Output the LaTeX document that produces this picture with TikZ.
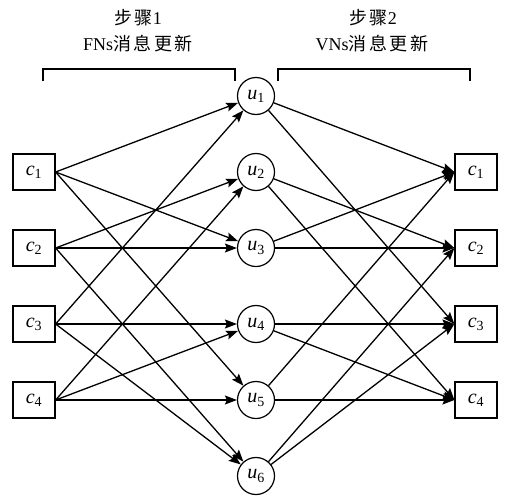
\documentclass[tikz,border=0pt]{standalone}
\usepackage{fontspec}
\setmainfont{Liberation Serif}
\newfontfamily\cjk{Noto Sans CJK SC}[LetterSpace=14]
\usetikzlibrary{arrows.meta}
\begin{document}
\begin{tikzpicture}[x=1pt,y=-1pt,
  cnode/.style={draw,line width=1.2pt,minimum width=42pt,minimum height=36pt,inner sep=0pt,font=\fontsize{20}{22}\selectfont},
  unode/.style={draw,circle,line width=1.2pt,minimum size=37pt,inner sep=0pt,font=\fontsize{20}{22}\selectfont},
  edge/.style={line width=1.3pt,-{Stealth[length=12pt,width=9pt,inset=2pt]}},
  brk/.style={line width=1.3pt},
  lbl/.style={font=\fontsize{18}{20}\selectfont,align=center}]
\useasboundingbox (0,0) rectangle (508,498);
% labels
\node[lbl] (s1) at (138,18) {{\cjk 步骤}1};
\node[lbl] (f1) at (138,44) {FNs{\cjk 消息更新}};
\node[lbl] (s2) at (373,18) {{\cjk 步骤}2};
\node[lbl] (f2) at (372,44) {VNs{\cjk 消息更新}};
% brackets
\coordinate (b1a) at (43,81); \coordinate (b1b) at (43,69);
\coordinate (b1c) at (235,69); \coordinate (b1d) at (235,81);
\draw[brk] (b1a) -- (b1b) -- (b1c) -- (b1d);
\coordinate (b2a) at (278,81); \coordinate (b2b) at (278,69);
\coordinate (b2c) at (470,69); \coordinate (b2d) at (470,81);
\draw[brk] (b2a) -- (b2b) -- (b2c) -- (b2d);
% nodes
\foreach \i/\y in {1/172,2/248,3/324,4/400}{
  \node[cnode] (L\i) at (34,\y) {\textit{c}\textsubscript{\i}};
  \node[cnode] (R\i) at (476,\y) {\textit{c}\textsubscript{\i}};
}
\foreach \i/\y in {1/96,2/172,3/248,4/324,5/400,6/476}{
  \node[unode] (U\i) at (256,\y) {\textit{u}\textsubscript{\i}};
}
% left edges
\foreach \a/\b in {1/1,1/3,1/5,2/2,2/3,2/6,3/1,3/4,3/6,4/2,4/4,4/5}{
  \draw[edge] (L\a.east) -- (U\b);
}
% right edges
\foreach \a/\b in {1/1,1/3,2/2,2/4,3/1,3/2,4/3,4/4,5/1,5/4,6/2,6/3}{
  \draw[edge] (U\a) -- (R\b.west);
}
\end{tikzpicture}
\end{document}
